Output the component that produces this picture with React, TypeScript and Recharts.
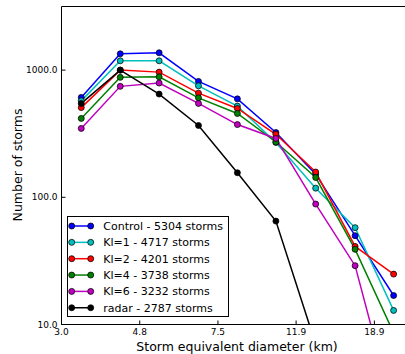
import { LineChart, Line, XAxis, YAxis } from "recharts";

// bin centres (km) and storm counts per bin
const diameters = [3.37, 4.24, 5.33, 6.72, 8.45, 10.6, 13.4, 16.9, 21.2];
const control = [610, 1343, 1368, 815, 594, 323, 152, 49.9, 16.9];
const kl1 = [573, 1183, 1183, 752, 521, 270, 118, 57.7, 12.9];
const kl2 = [507, 1000, 964, 659, 499, 313, 158, 41.1, 24.9];
const kl4 = [417, 877, 885, 605, 456, 272, 143, 39, 8.6];
const kl6 = [348, 745, 791, 547, 373, 290, 88.5, 29, 2.1];
const radar = [547, 1000, 648, 367, 156, 65, 7, null, null];

const xTicks = [3.0, 4.755, 7.536, 11.94, 18.93];
const yTicks = [10, 100, 1000];

const series = [
  { key: "control", name: "Control - 5304 storms", color: "#0000ff", values: control },
  { key: "kl1", name: "Kl=1 - 4717 storms", color: "#00bfbf", values: kl1 },
  { key: "kl2", name: "Kl=2 - 4201 storms", color: "#ff0000", values: kl2 },
  { key: "kl4", name: "Kl=4 - 3738 storms", color: "#008000", values: kl4 },
  { key: "kl6", name: "Kl=6 - 3232 storms", color: "#bf00bf", values: kl6 },
  { key: "radar", name: "radar - 2787 storms", color: "#000000", values: radar },
];

const data = diameters.map((d, i) => {
  const row: Record<string, number | null> = { d };
  for (const s of series) row[s.key] = s.values[i];
  return row;
});

const FONT = "DejaVu Sans";
const xDomain = [3.0, 22.67];
const yDomain = [10, 3162];

// legend box drawn by hand (matplotlib style, two markers per entry)
const LegendBox = () => (
  <g transform="translate(67, 216)">
    <rect x={0.5} y={0.5} width={161} height={100} fill="#fff" stroke="#000" strokeWidth={1} />
    {series.map((s, i) => {
      const cy = 10 + i * 16.35;
      return (
        <g key={s.key}>
          <line x1={4.7} x2={23.7} y1={cy} y2={cy} stroke={s.color} strokeWidth={1.5} />
          <circle cx={4.7} cy={cy} r={3} fill={s.color} stroke="#000" strokeWidth={0.75} />
          <circle cx={23.7} cy={cy} r={3} fill={s.color} stroke="#000" strokeWidth={0.75} />
          <text x={36.3} y={cy} dy="0.36em" fontSize={11} fontFamily={FONT} fill="#000">
            {s.name}
          </text>
        </g>
      );
    })}
  </g>
);

export default function App() {
  return (
    <div style={{ position: "absolute", left: 0, top: 0, width: 405, height: 354, background: "#fff" }}>
      <LineChart
        width={405}
        height={354}
        data={data}
        margin={{ top: 5.5, right: 0, bottom: 0, left: 0.5 }}
        style={{ fontFamily: FONT }}
      >
        <XAxis
          dataKey="d"
          type="number"
          scale="log"
          domain={xDomain}
          allowDataOverflow
          ticks={xTicks}
          tickFormatter={(v) => Number(v).toFixed(1)}
          height={29.5}
          tickSize={-4}
          tickMargin={8}
          tick={{ fontSize: 9, fill: "#000", fontFamily: FONT }}
          axisLine={{ stroke: "#000", strokeWidth: 1 }}
          tickLine={{ stroke: "#000" }}
        />
        <XAxis
          xAxisId="top"
          orientation="top"
          dataKey="d"
          type="number"
          scale="log"
          domain={xDomain}
          allowDataOverflow
          ticks={xTicks}
          height={1}
          tickSize={-4}
          tick={false}
          axisLine={{ stroke: "#000", strokeWidth: 1 }}
          tickLine={{ stroke: "#000" }}
        />
        <YAxis
          type="number"
          scale="log"
          domain={yDomain}
          allowDataOverflow
          ticks={yTicks}
          tickFormatter={(v) => Number(v).toFixed(1)}
          width={61}
          tickSize={-4}
          tickMargin={8}
          tick={{ fontSize: 9, fill: "#000", fontFamily: FONT }}
          axisLine={{ stroke: "#000", strokeWidth: 1 }}
          tickLine={{ stroke: "#000" }}
        />
        {series.map((s) => (
          <Line
            key={s.key}
            dataKey={s.key}
            name={s.name}
            stroke={s.color}
            strokeWidth={1.5}
            dot={{ r: 3, fill: s.color, stroke: "#000", strokeWidth: 0.75 }}
            type="linear"
            isAnimationActive={false}
          />
        ))}
        <LegendBox />
        <text
          x={21.5}
          y={165}
          transform="rotate(-90, 21.5, 165)"
          textAnchor="middle"
          fontSize={12.5}
          fontFamily={FONT}
          fill="#000"
        >
          Number of storms
        </text>
        <text x={237} y={351} textAnchor="middle" fontSize={12.5} fontFamily={FONT} fill="#000">
          Storm equivalent diameter (km)
        </text>
      </LineChart>
    </div>
  );
}
